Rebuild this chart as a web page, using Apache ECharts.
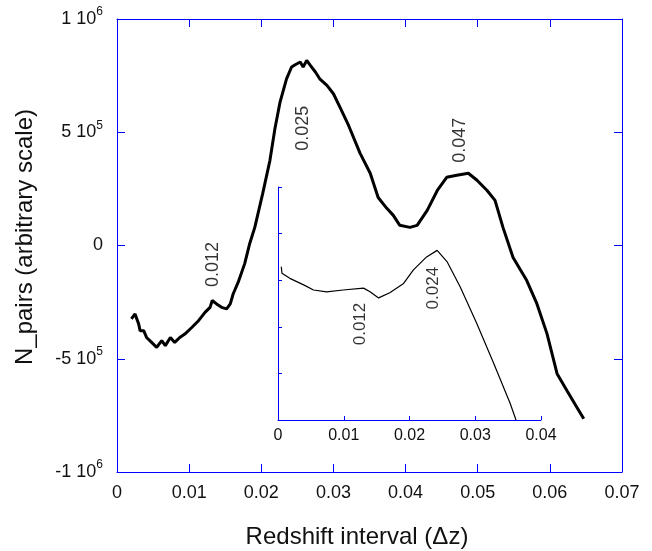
<!DOCTYPE html>
<html>
<head>
<meta charset="utf-8">
<script src="https://cdn.jsdelivr.net/npm/echarts@6/dist/echarts.min.js"></script>
<style>
html,body{margin:0;padding:0;background:#fff;}
#chart{width:652px;height:551px;}
</style>
</head>
<body>
<div id="chart"></div>
<script>
// Main curve: redshift interval vs N_pairs
const mainX = [0.0020,0.0025,0.0030,0.0032,0.0037,0.0041,0.0048,0.0055,0.0062,0.0067,0.0074,0.0080,0.0087,0.0094,0.0104,0.0113,0.0122,0.0129,0.0132,0.0138,0.0145,0.0152,0.0157,0.0161,0.0168,0.0177,0.0184,0.0191,0.0202,0.0212,0.0219,0.0226,0.0235,0.0242,0.0247,0.0254,0.0258,0.0263,0.0268,0.0275,0.0281,0.0291,0.0300,0.0309,0.0321,0.0337,0.0351,0.0362,0.0374,0.0383,0.0392,0.0406,0.0416,0.0430,0.0444,0.0457,0.0471,0.0487,0.0499,0.0513,0.0524,0.0535,0.0549,0.0568,0.0582,0.0596,0.0610,0.0624,0.0638,0.0647];
const mainY = [-324000,-302000,-346000,-376000,-376000,-406000,-428000,-450000,-420000,-442000,-406000,-428000,-406000,-391000,-361000,-332000,-295000,-273000,-243000,-258000,-273000,-280000,-258000,-214000,-162000,-80000,9000,80000,230000,376000,518000,633000,736000,788000,798000,810000,788000,817000,795000,766000,736000,707000,670000,611000,530000,407000,319000,212000,164000,133000,89000,80000,89000,155000,243000,301000,310000,319000,288000,243000,199000,80000,-53000,-155000,-257000,-389000,-566000,-642000,-717000,-765000];

// Inset curve (arbitrary units)
const insetX = [0.0005,0.0006,0.0018,0.0039,0.0054,0.0074,0.0099,0.0130,0.0140,0.0153,0.0170,0.0191,0.0206,0.0226,0.0242,0.0257,0.0277,0.0302,0.0328,0.0353,0.0362];
const insetY = [3.29,3.15,3.04,2.90,2.79,2.75,2.79,2.83,2.75,2.62,2.73,2.93,3.22,3.50,3.64,3.40,2.86,2.08,1.22,0.36,0.00];

// Annotations
const mainNoteText = ['0.025','0.047','0.012'];
const mainNoteX = [0.0258,0.0475,0.0133];
const mainNoteY = [518000,465000,-84000];
const insetNoteText = ['0.012','0.024'];
const insetNoteX = [0.0125,0.0236];
const insetNoteY = [2.06,2.83];

// Tick labels
const xTicks = [0,0.01,0.02,0.03,0.04,0.05,0.06,0.07];
const yTickValues = [-1000000,-500000,0,500000,1000000];
const yTickBase = ['-1 10','-5 10','0','5 10','1 10'];
const yTickExp = ['6','5','','5','6'];
const insetXTicks = [0,0.01,0.02,0.03,0.04];

const BLUE = '#0000ff';
const TXT = '#111111';
const FONT = 'Liberation Sans, Arial, sans-serif';

const chart = echarts.init(document.getElementById('chart'), null, {renderer:'canvas'});

function fmtX(v){ return String(Number(v.toFixed(3))); }
function fmtY(v){
  const i = yTickValues.findIndex(t => Math.abs(t - v) < 1);
  if (i < 0) return '';
  return yTickExp[i] ? '{b|' + yTickBase[i] + '}{e|' + yTickExp[i] + '}' : '{b|' + yTickBase[i] + '}';
}

function axLine(){ return {show:true, onZero:false, lineStyle:{color:BLUE, width:1}}; }
function ticks(len){ return {show:true, inside:true, length:len, lineStyle:{color:BLUE, width:1}}; }

const option = {
  backgroundColor:'#fff',
  animation:false,
  grid:[
    {left:117, top:19, right:30, bottom:79, containLabel:false},
    {left:278, top:187, right:111, bottom:131, containLabel:false}
  ],
  xAxis:[
    {type:'value', gridIndex:0, position:'bottom', min:0, max:0.07, interval:0.01,
     axisLine:axLine(), axisTick:ticks(8), splitLine:{show:false},
     axisLabel:{fontSize:18, color:TXT, fontFamily:FONT, margin:12, formatter:fmtX}},
    {type:'value', gridIndex:0, position:'top', min:0, max:0.07, interval:0.01,
     axisLine:axLine(), axisTick:ticks(8), splitLine:{show:false}, axisLabel:{show:false}},
    {type:'value', gridIndex:1, position:'bottom', min:0, max:0.04, interval:0.01,
     axisLine:axLine(), axisTick:ticks(4), splitLine:{show:false},
     axisLabel:{fontSize:16, color:TXT, fontFamily:FONT, margin:8, formatter:fmtX}}
  ],
  yAxis:[
    {type:'value', gridIndex:0, position:'left', min:-1000000, max:1000000, interval:500000,
     axisLine:axLine(), axisTick:ticks(8), splitLine:{show:false},
     axisLabel:{color:TXT, fontFamily:FONT, margin:14, formatter:fmtY,
       rich:{b:{fontSize:18, color:TXT, fontFamily:FONT, lineHeight:22},
             e:{fontSize:12, color:TXT, fontFamily:FONT, padding:[0,0,14,0]}}}},
    {type:'value', gridIndex:0, position:'right', min:-1000000, max:1000000, interval:500000,
     axisLine:axLine(), axisTick:ticks(8), splitLine:{show:false}, axisLabel:{show:false}},
    {type:'value', gridIndex:1, position:'left', min:0, max:5, interval:1,
     axisLine:axLine(), axisTick:ticks(4), splitLine:{show:false}, axisLabel:{show:false}}
  ],
  graphic:[
    {type:'text', x:357, y:537,
     style:{text:'Redshift interval (\u0394z)', font:'24px ' + FONT, fill:TXT, align:'center', verticalAlign:'middle'}},
    {type:'text', x:25, y:237, rotation:Math.PI/2,
     style:{text:'N_pairs (arbitrary scale)', font:'24px ' + FONT, fill:TXT, align:'center', verticalAlign:'middle'}}
  ],
  series:[
    {type:'line', xAxisIndex:0, yAxisIndex:0, showSymbol:false, symbol:'none',
     lineStyle:{color:'#000', width:3}, data: mainX.map((x,i)=>[x, mainY[i]]), z:3},
    {type:'line', xAxisIndex:2, yAxisIndex:2, showSymbol:false, symbol:'none',
     lineStyle:{color:'#000', width:1.2}, data: insetX.map((x,i)=>[x, insetY[i]]), z:3},
    {type:'scatter', xAxisIndex:0, yAxisIndex:0, symbolSize:0,
     data: mainNoteX.map((x,i)=>({name:mainNoteText[i], value:[x, mainNoteY[i]]})),
     label:{show:true, position:'inside', rotate:90, formatter:'{b}', fontSize:18, color:'#000', fontFamily:FONT}},
    {type:'scatter', xAxisIndex:2, yAxisIndex:2, symbolSize:0,
     data: insetNoteX.map((x,i)=>({name:insetNoteText[i], value:[x, insetNoteY[i]]})),
     label:{show:true, position:'inside', rotate:90, formatter:'{b}', fontSize:17, color:'#000', fontFamily:FONT}}
  ]
};
chart.setOption(option);
</script>
</body>
</html>
